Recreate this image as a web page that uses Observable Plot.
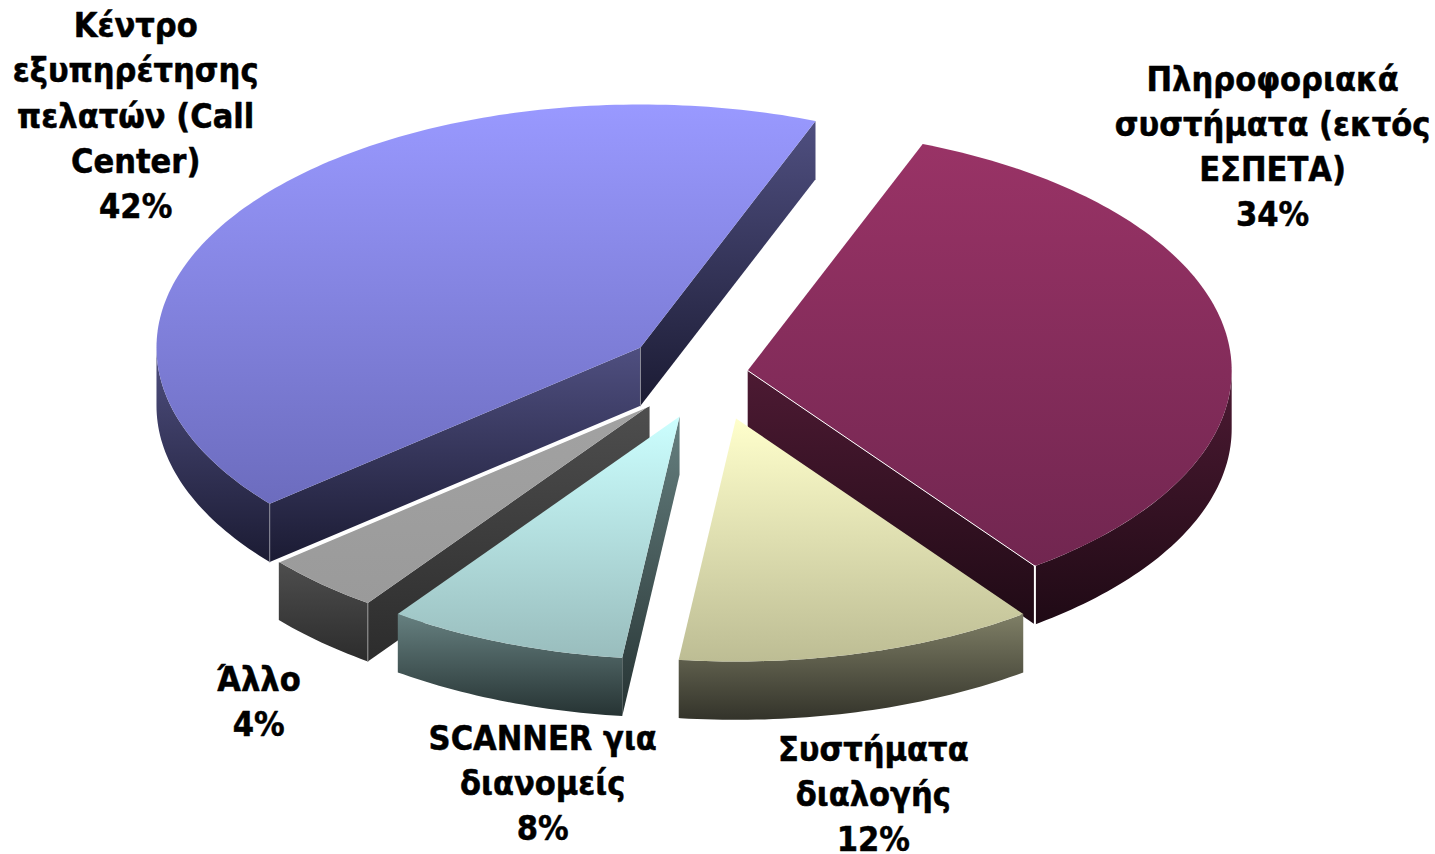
<!DOCTYPE html>
<html lang="el">
<head>
<meta charset="utf-8">
<script src="https://cdn.jsdelivr.net/npm/d3@7"></script>
<script src="https://cdn.jsdelivr.net/npm/@observablehq/plot@0.6"></script>
<style>html,body{margin:0;padding:0;background:#fff}svg{display:block}</style>
</head>
<body>
<div id="chart"></div>
<script>
const categories = ["Πληροφοριακά\nσυστήματα (εκτός\nΕΣΠΕΤΑ)", "Συστήματα\nδιαλογής", "SCANNER για\nδιανομείς", "Άλλο", "Κέντρο\nεξυπηρέτησης\nπελατών (Call\nCenter)"];
const values = [34, 12, 8, 4, 42];

// Slice styling (top-face and wall gradient stops)
const topFrom  = ["#993366", "#ffffcc", "#ccffff", "#a2a2a2", "#9999ff"];
const topTo    = ["#712650", "#bdbd94", "#99bdbd", "#9a9a9a", "#6c6cbe"];
const wallFrom = ["#4d1a33", "#7f7f66", "#668080", "#4e4e4e", "#4f4f80"];
const wallTo   = ["#1f0a15", "#33332a", "#263333", "#2c2c2c", "#1b1b33"];

// Layout of the exploded 3-D pie, in units of the pie radius
const firstAngle = 21.2, depth = 0.24;
const explodeX = [0.0975, 0.0734, -0.0433, -0.1052, -0.124];
const explodeY = [0.041, -0.1564, -0.1481, -0.1029, 0.1358];
const labelX = [1.182, 0.357, -0.326, -0.913, -1.167];
const labelY = [0.973, -1.692, -1.647, -1.311, 1.100];
const paintOrder = [4, 0, 3, 2, 1];

const W = 1435, H = 854, CX = 700, CY = 380, RX = 484, RY = 243;
const rad = d => d * Math.PI / 180;

const starts = [];
values.reduce((acc, v, i) => (starts[i] = acc, acc + v * 3.6), firstAngle);

const rim = (i, t) => [explodeX[i] + Math.sin(rad(t)), explodeY[i] + Math.cos(rad(t))];
const arc = (i, a, b) => d3.range(a, b, 1).concat(b).map(t => rim(i, t));
const down = p => [p[0], p[1] - depth];

const poly = (pts, fill) => Plot.line(pts, {x: d => d[0], y: d => d[1], curve: "linear-closed", fill, stroke: "none"});
const edge = (pts, stroke, strokeWidth) => Plot.line(pts, {x: d => d[0], y: d => d[1], stroke, strokeWidth});

const stop = (grad, offset, color) => grad.append("stop").attr("offset", offset).attr("stop-color", color);
const defsMark = () => {
  const defs = d3.create("svg:defs");
  values.forEach((_, i) => {
    [["top", topFrom[i], topTo[i]], ["wall", wallFrom[i], wallTo[i]]].forEach(([k, a, b]) => {
      const g = defs.append("linearGradient").attr("id", `${k}${i}`).attr("x1", 0).attr("y1", 0).attr("x2", 0).attr("y2", 1);
      stop(g, 0, a); stop(g, 1, b);
    });
  });
  return defs.node();
};

const marks = [defsMark];
for (const i of paintOrder) {
  const a = starts[i], b = a + values[i] * 3.6;
  const apex = [explodeX[i], explodeY[i]];
  const cut = t => { const r = rim(i, t); return [apex, r, down(r), down(apex)]; };
  // cut faces whose outward side faces the viewer
  if (Math.sin(rad(a)) < 0) marks.push(poly(cut(a), `url(#wall${i})`));
  if (Math.sin(rad(b)) > 0) marks.push(poly(cut(b), `url(#wall${i})`));
  // outer wall, only for the front half of the rim
  const lo = Math.max(a, 90), hi = Math.min(b, 270);
  if (hi > lo) {
    const front = arc(i, lo, hi);
    marks.push(poly([...front, ...front.map(down).reverse()], `url(#wall${i})`));
  }
  marks.push(poly([apex, ...arc(i, a, b)], `url(#top${i})`));
}

// thin highlight edges
const hair = (i, t, c, w) => { const r = rim(i, t); return edge([r, down(r)], c, w); };
marks.push(
  edge([[explodeX[0], explodeY[0]], rim(0, starts[1])], "#ffffff", 1),
  hair(0, starts[1], "#ffffff", 2),
  edge([[explodeX[3], explodeY[3]], rim(3, starts[4])], "#ffffff", 1.5),
  hair(4, starts[4], "#8c8c9a", 1),
  edge([[explodeX[4], explodeY[4]], down([explodeX[4], explodeY[4]])], "#8c8c9a", 1),
  hair(3, starts[3], "#9a9a9a", 1)
);

const labels = categories.map((c, i) => ({text: `${c}\n${values[i]}%`, x: labelX[i], y: labelY[i]}));
marks.push(Plot.text(labels, {
  x: "x", y: "y", text: "text", textAnchor: "middle", lineAnchor: "middle", lineHeight: 1.33,
  fontSize: 34, fontWeight: 700, fontFamily: "'DejaVu Sans Condensed', 'DejaVu Sans', sans-serif",
  fill: "#000", stroke: "#000", strokeWidth: 0.5
}));

const chart = Plot.plot({
  width: W, height: H, margin: 0,
  x: {domain: [-CX / RX, (W - CX) / RX], range: [0, W], axis: null},
  y: {domain: [CY / RY, (CY - H) / RY], range: [0, H], axis: null},
  marks
});
document.getElementById("chart").appendChild(chart);
</script>
</body>
</html>
